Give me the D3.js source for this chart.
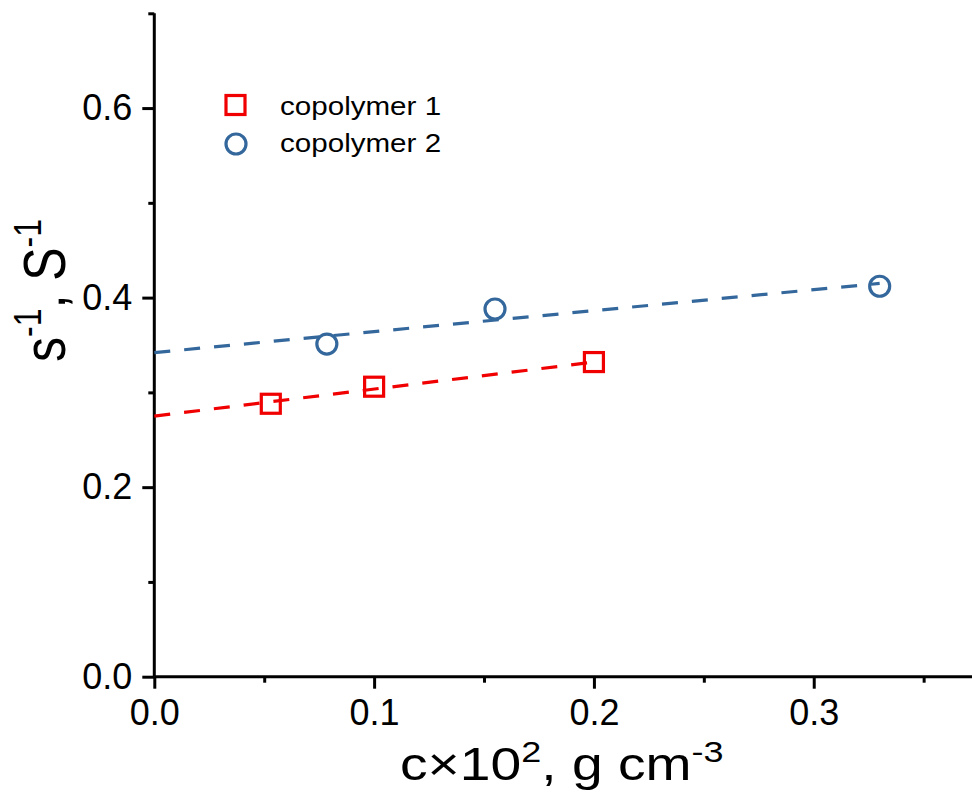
<!DOCTYPE html>
<html>
<head>
<meta charset="utf-8">
<script src="https://cdn.jsdelivr.net/npm/d3@7"></script>
<style>
  body { margin: 0; background: #fff; }
  text { font-family: "Liberation Sans", Arial, sans-serif; fill: #000; }
</style>
</head>
<body>
<div id="chart"></div>
<script>
// measured points
var series1X = [0.053, 0.1, 0.2];
var series1Y = [0.288, 0.306, 0.332];
var series2X = [0.0785, 0.155, 0.33];
var series2Y = [0.351, 0.388, 0.412];

// linear fits (end points)
var fit1X = [0, 0.2];
var fit1Y = [0.275, 0.332];
var fit2X = [0, 0.33];
var fit2Y = [0.342, 0.415];

var seriesNames = ['copolymer 1', 'copolymer 2'];
var xMajorTicks = [0, 0.1, 0.2, 0.3];
var xMinorTicks = [0.05, 0.15, 0.25, 0.35];
var yMajorTicks = [0, 0.2, 0.4, 0.6];
var yMinorTicks = [0.1, 0.3, 0.5, 0.7];

var width = 972, height = 796;
var red = '#f00000', blue = '#34689c';

var svg = d3.select('#chart').append('svg')
      .attr('width', width)
      .attr('height', height);

var x = d3.scaleLinear().domain([0, 0.372]).range([154.3, 972]);
var y = d3.scaleLinear().domain([0, 0.7]).range([676.7, 13.3]);

var fmt = d3.format('.1f');

// x axis
var xAxis = svg.append('g').attr('transform', 'translate(0,' + y(0) + ')');
xAxis.call(d3.axisBottom(x).tickValues(xMajorTicks).tickFormat(fmt).tickSize(12).tickPadding(10));
xAxis.append('g').call(d3.axisBottom(x).tickValues(xMinorTicks).tickFormat('').tickSize(6))
  .select('.domain').remove();
xAxis.selectAll('.domain').attr('d', 'M' + x(0) + ',0H' + width);

// y axis
var yAxis = svg.append('g').attr('transform', 'translate(' + x(0) + ',0)');
yAxis.call(d3.axisLeft(y).tickValues(yMajorTicks).tickFormat(fmt).tickSize(12).tickPadding(10));
yAxis.append('g').call(d3.axisLeft(y).tickValues(yMinorTicks).tickFormat('').tickSize(6))
  .select('.domain').remove();
yAxis.selectAll('.domain').attr('d', 'M0,' + y(0.7) + 'V' + y(0));

svg.selectAll('.domain, .tick line')
  .attr('stroke', '#000')
  .attr('stroke-width', 3);
svg.selectAll('.tick text')
  .style('font-size', '36px')
  .style('font-family', '"Liberation Sans", Arial, sans-serif');
xAxis.selectAll('.tick text').attr('dy', '0.72em');

// fit lines
var line = d3.line()
      .x(function(d){ return x(d[0]); })
      .y(function(d){ return y(d[1]); });

var fits = [
  {xs: fit1X, ys: fit1Y, color: red},
  {xs: fit2X, ys: fit2Y, color: blue}
];
svg.selectAll('path.fit')
  .data(fits)
  .enter()
  .append('path')
  .attr('class', 'fit')
  .attr('d', function(d){ return line(d3.zip(d.xs, d.ys)); })
  .attr('fill', 'none')
  .attr('stroke', function(d){ return d.color; })
  .attr('stroke-width', 3.2)
  .attr('stroke-dasharray', '16,14');

// markers
svg.selectAll('rect.pt')
  .data(d3.zip(series1X, series1Y))
  .enter()
  .append('rect')
  .attr('class', 'pt')
  .attr('x', function(d){ return x(d[0]) - 9.5; })
  .attr('y', function(d){ return y(d[1]) - 9.5; })
  .attr('width', 19)
  .attr('height', 19)
  .attr('fill', 'none')
  .attr('stroke', red)
  .attr('stroke-width', 3.2);

svg.selectAll('circle.pt')
  .data(d3.zip(series2X, series2Y))
  .enter()
  .append('circle')
  .attr('class', 'pt')
  .attr('cx', function(d){ return x(d[0]); })
  .attr('cy', function(d){ return y(d[1]); })
  .attr('r', 10)
  .attr('fill', 'none')
  .attr('stroke', blue)
  .attr('stroke-width', 3.2);

// legend
var legend = svg.append('g');
legend.append('rect')
  .attr('x', 235.5 - 9.5).attr('y', 105 - 9.5)
  .attr('width', 19).attr('height', 19)
  .attr('fill', 'none').attr('stroke', red).attr('stroke-width', 3.2);
legend.append('circle')
  .attr('cx', 236).attr('cy', 144).attr('r', 10)
  .attr('fill', 'none').attr('stroke', blue).attr('stroke-width', 3.2);
legend.selectAll('text')
  .data(seriesNames)
  .enter()
  .append('text')
  .attr('transform', function(d, i){ return 'translate(280,' + (115 + i * 37) + ') scale(1.16,1)'; })
  .style('font-size', '25.5px')
  .text(function(d){ return d; });

// axis titles
var xTitle = svg.append('text')
  .attr('transform', 'translate(400,780) scale(1.2,1)')
  .style('font-size', '46px');
xTitle.append('tspan').text('c\u00d710');
xTitle.append('tspan').attr('dy', -18).style('font-size', '30px').text('2');
xTitle.append('tspan').attr('dy', 18).text(', g cm');
xTitle.append('tspan').attr('dy', -18).style('font-size', '30px').text('-3');

var yTitle = svg.append('text')
  .attr('transform', 'translate(65,362) rotate(-90) scale(1,1.2)')
  .style('font-size', '50px');
yTitle.append('tspan').text('s');
yTitle.append('tspan').attr('dy', -20).style('font-size', '32px').text('-1');
yTitle.append('tspan').attr('dy', 20).text(', S');
yTitle.append('tspan').attr('dy', -20).style('font-size', '32px').text('-1');
</script>
</body>
</html>
